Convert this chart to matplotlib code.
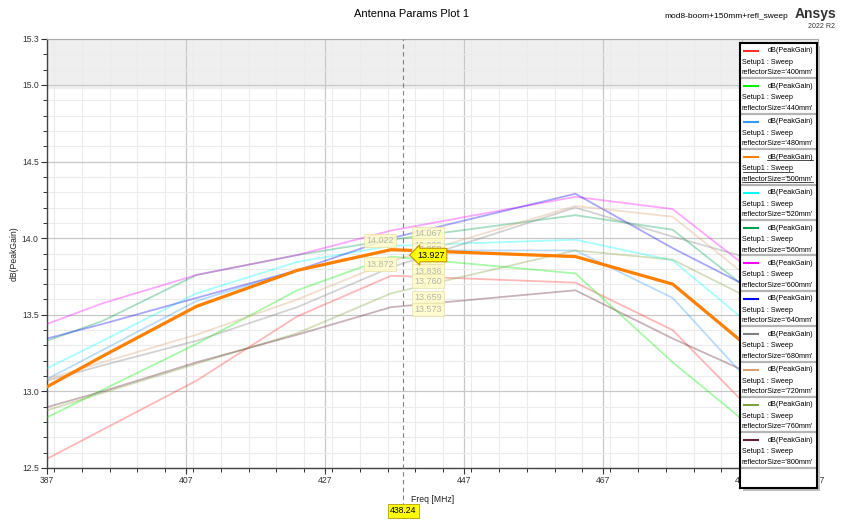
import matplotlib
matplotlib.use("Agg")
import matplotlib.pyplot as plt
from matplotlib.ticker import MultipleLocator, FixedLocator, FuncFormatter
from matplotlib.patches import Rectangle

plt.rcParams['font.family'] = ['Liberation Sans', 'DejaVu Sans']

# frequency points of the sweep [MHz]
freq = [387, 395, 408.5, 423, 436.5, 463, 477, 488]

sizes = ['400mm', '440mm', '480mm', '500mm', '520mm', '560mm',
         '600mm', '640mm', '680mm', '720mm', '760mm', '800mm']
colors = ['#ff3030', '#00ee00', '#3399ff', '#ff8000', '#00ffff', '#00a050',
          '#ff00ff', '#0000ff', '#808080', '#d8a070', '#80a040', '#602030']

# dB(PeakGain) per reflector size
gain_400 = [12.56, 12.75, 13.07, 13.49, 13.755, 13.71, 13.40, 12.89]
gain_440 = [12.83, 13.01, 13.31, 13.66, 13.88, 13.77, 13.19, 12.78]
gain_480 = [13.08, 13.27, 13.59, 13.79, 13.92, 13.92, 13.61, 13.065]
gain_500 = [13.03, 13.23, 13.555, 13.79, 13.925, 13.88, 13.70, 13.285]
gain_520 = [13.15, 13.33, 13.64, 13.845, 13.95, 13.99, 13.855, 13.44]
gain_560 = [13.33, 13.46, 13.76, 13.89, 13.99, 14.15, 14.055, 13.66]
gain_600 = [13.44, 13.575, 13.76, 13.89, 14.05, 14.27, 14.19, 13.80]
gain_640 = [13.345, 13.44, 13.61, 13.79, 14.00, 14.29, 13.935, 13.68]
gain_680 = [13.07, 13.17, 13.33, 13.55, 13.81, 14.20, 14.01, 13.87]
gain_720 = [13.08, 13.19, 13.37, 13.60, 13.85, 14.21, 14.14, 13.74]
gain_760 = [12.876, 12.99, 13.18, 13.38, 13.64, 13.92, 13.86, 13.61]
gain_800 = [12.897, 13.00, 13.19, 13.37, 13.55, 13.66, 13.345, 13.12]

series = [gain_400, gain_440, gain_480, gain_500, gain_520, gain_560,
          gain_600, gain_640, gain_680, gain_720, gain_760, gain_800]
selected = 3

marker_freq = 438.24
marker_vals = ['14.067', '14.022', '13.993', '13.958', '13.927', '13.876',
               '13.872', '13.836', '13.760', '13.659', '13.573']
# where each marker label sits: (side, y in dB)
marker_pos = [('r', 14.03), ('l', 13.985), ('r', 13.955), ('r', 13.925),
              ('r', 13.885), ('r', 13.81), ('l', 13.83), ('r', 13.785),
              ('r', 13.72), ('r', 13.61), ('r', 13.535)]

W, H = 842, 522
fig = plt.figure(figsize=(W / 100, H / 100), dpi=100)
ax = fig.add_axes([47 / W, 54 / H, 771 / W, 429 / H])

for i, g in enumerate(series):
    if i == selected:
        continue
    ax.plot(freq, g, color=colors[i], lw=1.3, alpha=0.34, zorder=3)
ax.plot(freq, series[selected], color=colors[selected], lw=2.3, zorder=4)

ax.set_xlim(387, 497.9)
ax.set_ylim(12.5, 15.3)
ax.axhspan(14.98, 15.3, color='#efefef', zorder=0)

ax.xaxis.set_major_locator(FixedLocator([387, 407, 427, 447, 467, 487, 497.9]))
ax.xaxis.set_minor_locator(MultipleLocator(4))
ax.xaxis.set_major_formatter(FuncFormatter(lambda v, p: '%d' % int(v)))
ax.yaxis.set_major_locator(FixedLocator([12.5, 13.0, 13.5, 14.0, 14.5, 15.0, 15.3]))
ax.yaxis.set_minor_locator(MultipleLocator(0.1))
ax.yaxis.set_major_formatter(FuncFormatter(lambda v, p: '%.1f' % v))
ax.grid(which='major', color='#c8c8c8', lw=0.9, zorder=1)
ax.grid(which='minor', color='#ebebeb', lw=0.8, zorder=1)
ax.set_axisbelow(True)
ax.tick_params(which='major', direction='out', length=4, width=0.8,
               labelsize=6.2, colors='#333333', pad=2)
ax.tick_params(which='minor', direction='out', length=3, width=0.7,
               colors='#333333')
for s in ['top', 'right']:
    ax.spines[s].set_color('#aaaaaa')
    ax.spines[s].set_linewidth(0.8)
for s in ['left', 'bottom']:
    ax.spines[s].set_color('#444444')
    ax.spines[s].set_linewidth(1.0)

ax.set_xlabel('Freq [MHz]', fontsize=6.2, labelpad=7, color='#222222')
ax.set_ylabel('dB(PeakGain)', fontsize=6.2, labelpad=2, color='#222222')

# marker line
ax.axvline(marker_freq, color='#808080', lw=0.8, ls=(0, (4, 3)), zorder=5,
           ymin=-0.11, clip_on=False)
ax.text(marker_freq, 12.5 - 0.28, '%.2f' % marker_freq, ha='center', va='center',
        fontsize=6.2, color='black', zorder=8, clip_on=False,
        bbox=dict(boxstyle='square,pad=0.25', fc='#ffff00', ec='#b0a000', lw=0.6))

for txt, (side, yv) in zip(marker_vals, marker_pos):
    if txt == '13.927':
        continue
    xv = 441.8 if side == 'r' else 434.9
    ax.text(xv, yv, txt, ha='center', va='center', fontsize=6.5,
            color='#b8b8a8', zorder=6,
            bbox=dict(boxstyle='square,pad=0.25', fc='#fffcc8', ec='#e8e0a8',
                      lw=0.6, alpha=0.85))
ax.text(442.2, 13.89, '13.927', ha='center', va='center', fontsize=6.5,
        color='black', zorder=7,
        bbox=dict(boxstyle='larrow,pad=0.25', fc='#ffff00', ec='#c89000', lw=0.8))

# titles
fig.text(411 / W, 1 - 14 / H, 'Antenna Params Plot 1', ha='center', va='center',
         fontsize=8)
fig.text(788 / W, 1 - 17 / H, 'mod8-boom+150mm+refl_sweep', ha='right',
         va='center', fontsize=6)
fig.text(836 / W, 1 - 14 / H, 'Ansys', ha='right', va='center', fontsize=10,
         fontweight='bold', color='#333333')
fig.text(835 / W, 1 - 27 / H, '2022 R2', ha='right', va='center', fontsize=5,
         color='#333333')

# legend panel
lx, ly, lw_, lh = 740, 43, 77, 445
shadow = Rectangle(((lx + 3) / W, 1 - (ly + lh + 3) / H), lw_ / W, lh / H,
                   transform=fig.transFigure, fc='#c0c0c0', ec='none', zorder=9)
fig.patches.append(shadow)
lax = fig.add_axes([lx / W, 1 - (ly + lh) / H, lw_ / W, lh / H], zorder=10)
lax.set_xlim(0, lw_)
lax.set_ylim(lh, 0)
lax.set_xticks([])
lax.set_yticks([])
lax.set_facecolor('white')
for s in lax.spines.values():
    s.set_color('black')
    s.set_linewidth(1.5)

step = 35.4
under = []
for i, sz in enumerate(sizes):
    y0 = i * step
    lax.plot([4, 18], [y0 + 8, y0 + 8], color=colors[i], lw=1.5)
    t1 = lax.text(73, y0 + 8, 'dB(PeakGain)', ha='right', va='center', fontsize=5.2)
    t2 = lax.text(2.5, y0 + 19.5, 'Setup1 : Sweep', ha='left', va='center', fontsize=5.2)
    t3 = lax.text(2, y0 + 30, "reflectorSize='%s'" % sz, ha='left', va='center',
                  fontsize=5.2)
    lax.plot([0, lw_], [y0 + step, y0 + step], color='#b4b4b4', lw=1.6)
    if i == selected:
        under = [t1, t2, t3]

fig.canvas.draw()
inv = lax.transData.inverted()
for t in under:
    bb = t.get_window_extent()
    (xa, ya), (xb, yb) = inv.transform([(bb.x0, bb.y0), (bb.x1, bb.y0)])
    lax.plot([xa, xb], [ya - 0.3, yb - 0.3], color='black', lw=0.5)

fig.savefig('out.png', dpi=100)
